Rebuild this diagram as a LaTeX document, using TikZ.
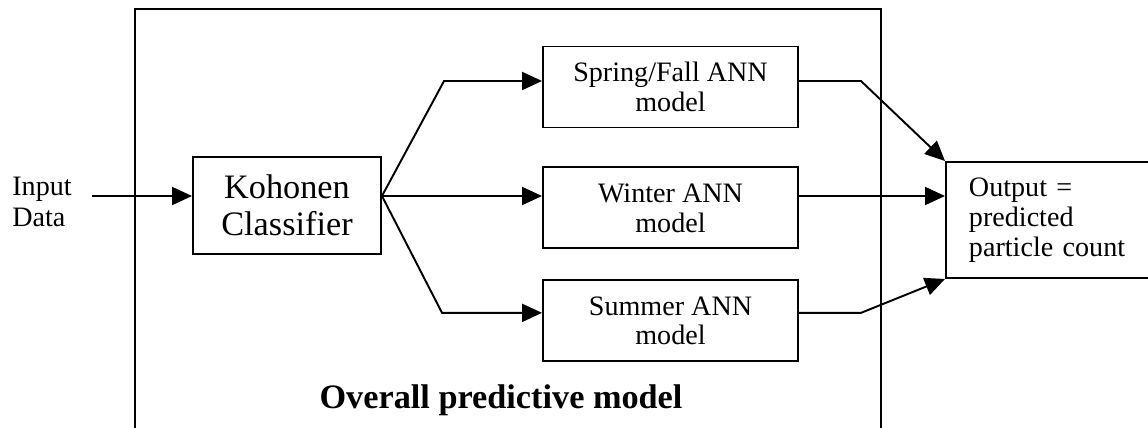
\documentclass[tikz,border=0pt]{standalone}
\usepackage{fontspec}
\setmainfont{Liberation Serif}
\usetikzlibrary{arrows.meta, positioning, calc}

\begin{document}
\begin{tikzpicture}[
    font=\fontsize{16}{17}\selectfont,
    % Styles
    modelbox/.style={
        rectangle,
        draw,
        line width=1.1pt,
        minimum width=5.1cm,
        minimum height=1.62cm,
        align=center
    },
    classbox/.style={
        rectangle,
        draw,
        line width=1.1pt,
        minimum width=3.76cm,
        minimum height=1.94cm,
        align=center,
        font=\fontsize{19.5}{21}\selectfont
    },
    outbox/.style={
        rectangle,
        draw,
        line width=1.1pt,
        text width=4cm,
        inner xsep=0.46cm,
        minimum height=2.32cm,
        align=left
    },
    arrow/.style={
        line width=1.1pt,
        -{Triangle[length=4mm, width=3.6mm]}
    },
    labeltext/.style={
        font=\bfseries\fontsize{19.5}{21}\selectfont
    }
]

% --- Canvas ---
\useasboundingbox (0,0) rectangle (22.96,8.54);
\clip (0,0) rectangle (22.96,8.54);

% --- Overall frame (open at the bottom) ---
\node (frame) [draw, line width=1.1pt, inner sep=0pt, anchor=north west,
    minimum width=14.92cm, minimum height=8.8cm] at (2.68,8.38) {};

% --- Input and classifier ---
\node (input) [align=left, anchor=west, inner sep=0pt, font=\fontsize{16}{18}\selectfont] at (0.24,4.5) {Input\\Data};
\node (kohonen) [classbox] at (5.74,4.43) {Kohonen\\Classifier};

% --- Seasonal models ---
\node (spring) [modelbox] at (13.41,6.8) {Spring/Fall ANN\\model};
\node (winter) [modelbox, below=0.76cm of spring] {Winter ANN\\model};
\node (summer) [modelbox, below=0.6cm of winter] {Summer ANN\\model};

% --- Output ---
\node (output) [outbox, anchor=west] at (18.9,4.14) {Output =\\predicted\\particle count};

% --- Label ---
\node (overall) [labeltext, anchor=base] at (10.02,0.38) {Overall predictive model};

% --- Connections ---
\coordinate (split) at ([yshift=1.9mm]kohonen.east);

% Input -> Classifier
\draw [arrow] ([xshift=4mm]input.east |- split) -- (split -| kohonen.west);

% Classifier -> Models
\draw [arrow] (split) -- ($(spring.west)+(-1.96,0.12)$) -- ([yshift=1.2mm]spring.west);
\draw [arrow] (split) -- (split -| winter.west);
\draw [arrow] (split) -- ($(summer.west)+(-2.0,0.16)$) -- ([yshift=1.6mm]summer.west);

% Models -> Output
\draw [arrow] ([yshift=1.2mm]spring.east) -- ++(1.24,0) -- (output.north west);
\draw [arrow] (split -| winter.east) -- (split -| output.west);
\draw [arrow] ([yshift=1.6mm]summer.east) -- ++(1.24,0) -- (output.south west);

\end{tikzpicture}
\end{document}
